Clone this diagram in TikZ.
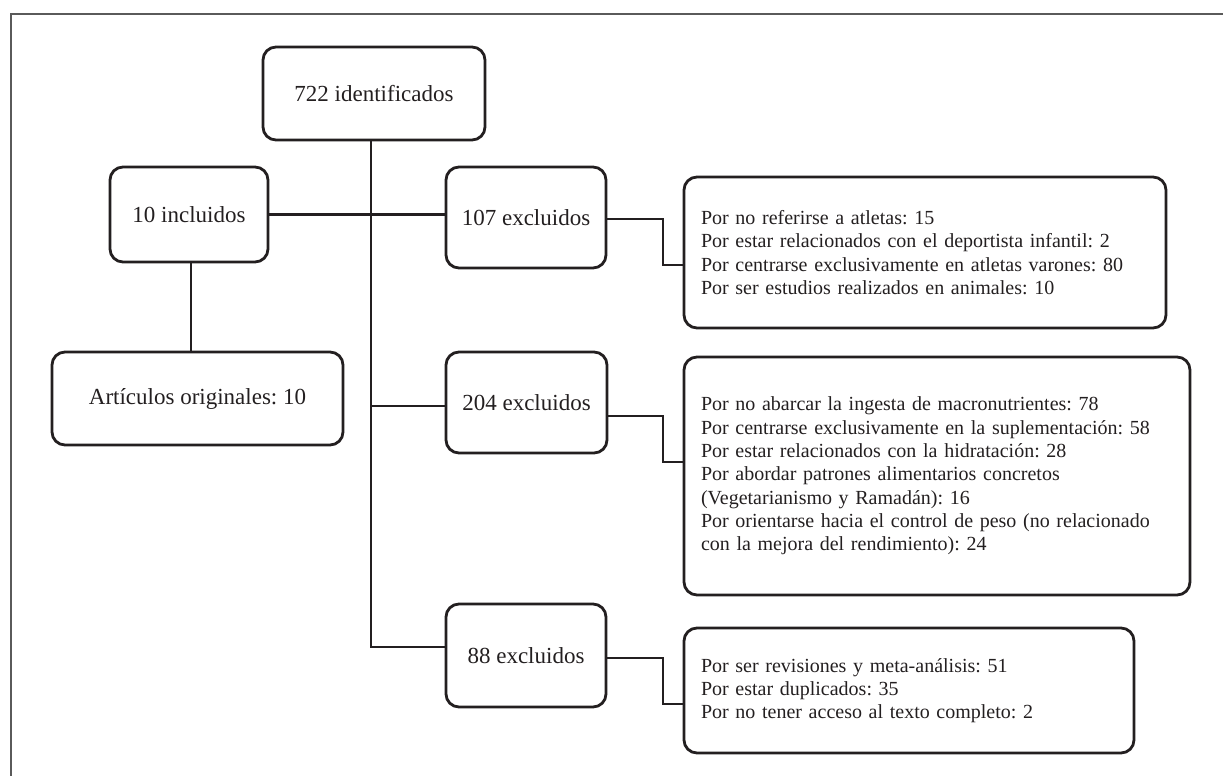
\documentclass[tikz,border=0pt]{standalone}
\usepackage{fontspec}
\setmainfont{Liberation Serif}
\usetikzlibrary{calc}
\definecolor{ink}{HTML}{231F20}
\definecolor{framegray}{HTML}{5A5A5A}
\frenchspacing
\begin{document}
\begin{tikzpicture}[x=1pt,y=-1pt,
  box/.style={draw=ink, text=ink, line width=2.8pt, rounded corners=13pt, align=center,
    font=\fontsize{23}{27}\selectfont, inner sep=0pt},
  listbox/.style={draw=ink, text=ink, line width=2.8pt, rounded corners=13pt, align=left,
    font=\fontsize{20}{23.3}\selectfont, inner xsep=17pt, inner ysep=0pt},
  conn/.style={draw=ink, line width=2.3pt}]
\useasboundingbox (0,0) rectangle (1223,776);
% frame
\draw[framegray, line width=1.6pt] (1223,14) -- (11,14) -- (11,776);

% main nodes
\node[box, minimum width=222pt, minimum height=93pt] (top) at (374,93.5) {722 identificados};
\node[box, minimum width=158pt, minimum height=95pt] (inc) at (189,214.5) {10 incluidos};
\node[box, minimum width=291pt, minimum height=93pt] (art) at (197.5,398.5) {Artículos originales: 10};
\node[box, minimum width=160pt, minimum height=101pt] (e107) at (526,217.5) {107 excluidos};
\node[box, minimum width=161pt, minimum height=101pt] (e204) at (526.5,402.5) {204 excluidos};
\node[box, minimum width=160pt, minimum height=103pt] (e88) at (526,655.5) {88 excluidos};

% list boxes
\node[listbox, text width=448pt, minimum height=151pt] (b1) at (925,252.5) {%
Por no referirse a atletas: 15\\
Por estar relacionados con el deportista infantil: 2\\
Por centrarse exclusivamente en atletas varones: 80\\
Por ser estudios realizados en animales: 10};
\node[listbox, text width=472pt, minimum height=238pt] (b2) at (937,476) {%
Por no abarcar la ingesta de macronutrientes: 78\\
Por centrarse exclusivamente en la suplementación: 58\\
Por estar relacionados con la hidratación: 28\\
Por abordar patrones alimentarios concretos\\
(Vegetarianismo y Ramadán): 16\\
Por orientarse hacia el control de peso (no relacionado\\
con la mejora del rendimiento): 24};
\node[listbox, text width=416pt, minimum height=125pt] (b3) at (909,690.5) {%
Por ser revisiones y meta-análisis: 51\\
Por estar duplicados: 35\\
Por no tener acceso al texto completo: 2};

% helper coordinates
\coordinate (tr) at (371,0);
\coordinate (ex) at (663,0);

% trunk
\draw[conn] (top.south -| tr) -- (tr |- {$(e88.west)+(0,-8.5)$}) -- ($(e88.west)+(0,-8.5)$);
\draw[conn] (tr |- e204.west) ++(0,3.5) -- ($(e204.west)+(0,3.5)$);
% included branch
\draw[conn] (inc.east) -- (inc.east -| e107.west);
\draw[conn] (inc.south -| {$(inc.south)+(2,0)$}) -- ({$(inc.south)+(2,0)$} |- art.north);
% excluded to lists
\draw[conn] ($(e107.east)+(0,1.5)$) -- ({$(e107.east)+(0,1.5)$} -| ex) -- (ex |- {$(b1.west)+(0,12.5)$}) -- ($(b1.west)+(0,12.5)$);
\draw[conn] ($(e204.east)+(0,13.5)$) -- ({$(e204.east)+(0,13.5)$} -| ex) -- (ex |- {$(b2.west)+(0,-14)$}) -- ($(b2.west)+(0,-14)$);
\draw[conn] ($(e88.east)+(0,2.5)$) -- ({$(e88.east)+(0,2.5)$} -| ex) -- (ex |- {$(b3.west)+(0,13.5)$}) -- ($(b3.west)+(0,13.5)$);
\end{tikzpicture}
\end{document}
